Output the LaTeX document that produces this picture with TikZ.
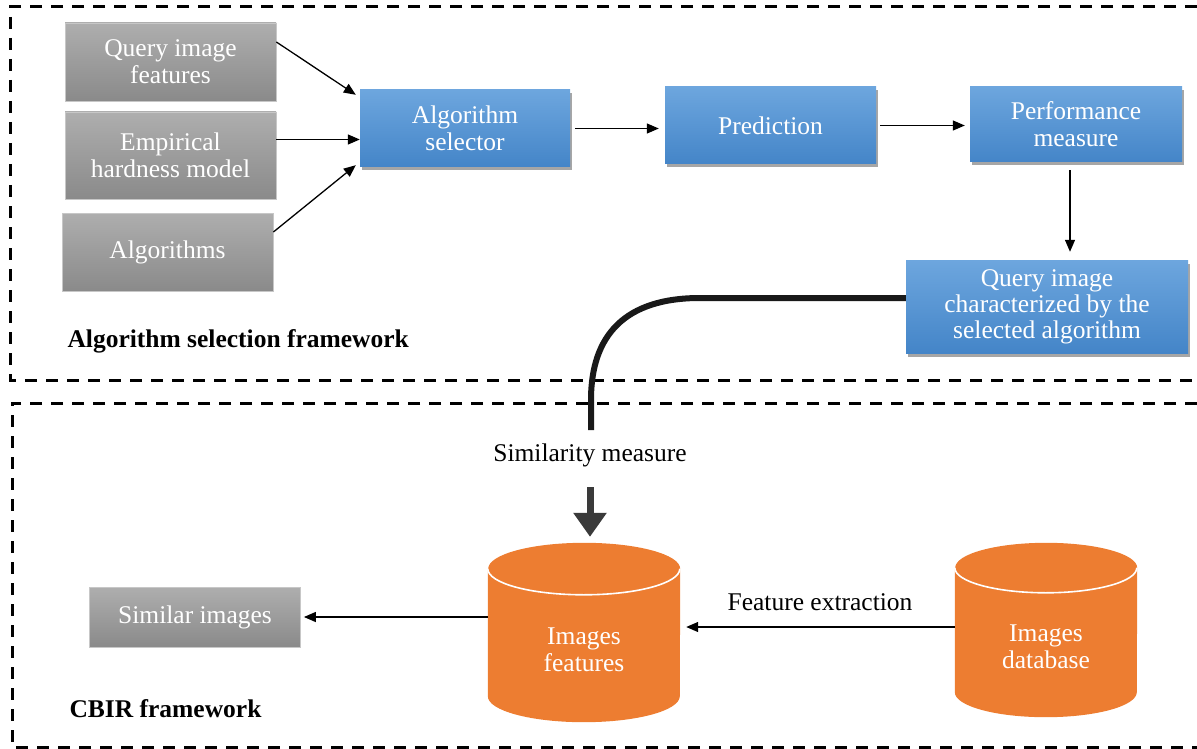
\documentclass[tikz,border=0pt]{standalone}
\usepackage{fontspec}
\setmainfont{Liberation Serif}
\usetikzlibrary{arrows.meta,shadows,calc}

\definecolor{greytop}{HTML}{AEAEAE}
\definecolor{greybot}{HTML}{8A8A8A}
\definecolor{bluetop}{HTML}{6DA6DE}
\definecolor{bluebot}{HTML}{4485C8}
\definecolor{dborange}{HTML}{ED7D31}
\definecolor{darkarrow}{HTML}{3A3A3A}

% database cylinder drawn over the frame of a named node: #1 node, #2 x radius, #3 y radius
\newcommand\drawdb[3]{%
  \fill[dborange] ([yshift=-#3]#1.north west)
    -- ([yshift=#3]#1.south west)
    arc[start angle=180,end angle=360,x radius=#2,y radius=#3]
    -- ([yshift=-#3]#1.north east)
    arc[start angle=0,end angle=180,x radius=#2,y radius=#3] -- cycle;
  \draw[white,line width=1.6pt] ([yshift=-#3]#1.north west)
    arc[start angle=180,end angle=360,x radius=#2,y radius=#3];
}

\begin{document}
\begin{tikzpicture}[x=1pt,y=-1pt,
  txt/.style={font=\fontsize{25.5pt}{27pt}\selectfont, align=center},
  greybox/.style={txt, text=white, draw=black!22, line width=0.8pt,
    top color=greytop, bottom color=greybot, inner sep=0pt},
  bluebox/.style={txt, text=white, top color=bluetop, bottom color=bluebot,
    inner sep=0pt, drop shadow={shadow xshift=1.5pt, shadow yshift=-3.5pt,
    opacity=0.35, fill=black}},
  dbframe/.style={inner sep=0pt},
  dbtext/.style={txt, text=white},
  arr/.style={line width=1.3pt, -{Triangle[length=12pt,width=10pt]}},
  frame/.style={line width=3pt, dash pattern=on 12pt off 9pt},
  caption/.style={txt, font=\fontsize{25.5pt}{27pt}\selectfont\bfseries, anchor=west},
  plainlabel/.style={txt}
]
\useasboundingbox (0,0) rectangle (1197,749);

% dashed framework borders
\draw[frame] (1197,7) -- (10,7) -- (10,380) -- (1197,380);
\draw[frame] (1197,403) -- (12,403) -- (12,747) -- (1197,747);

% inputs of the selector
\node[greybox, minimum width=211pt, minimum height=78pt] (gq) at (170.5,62) {Query image\\features};
\node[greybox, minimum width=211pt, minimum height=87pt] (ge) at (170.5,155.5) {Empirical\\hardness model};
\node[greybox, minimum width=211pt, minimum height=78pt] (ga) at (167.5,252) {Algorithms};

% selection pipeline
\node[bluebox, minimum width=210pt, minimum height=77pt] (sel) at (465,128.5) {Algorithm\\selector};
\node[bluebox, minimum width=211pt, minimum height=77pt] (pred) at (770.5,125.5) {Prediction};
\node[bluebox, minimum width=212pt, minimum height=75pt] (perf) at (1076,124.5) {Performance\\measure};
\node[bluebox, minimum width=282pt, minimum height=93pt, font=\fontsize{25.5pt}{26pt}\selectfont] (qchar) at (1047,306.5) {Query image\\characterized by the\\selected algorithm};

\draw[arr] ([yshift=20pt]gq.east) -- ([xshift=-4pt,yshift=-5pt]sel.north west);
\draw[arr] ([yshift=16pt]ge.east) -- ([yshift=16pt]ge.east -| sel.west);
\draw[arr] ([yshift=20pt]ga.east) -- ([xshift=-4pt,yshift=2pt]sel.south west);
\draw[arr] ([xshift=5pt]sel.east) -- ([xshift=-6pt]pred.west |- sel.east);
\draw[arr] ([xshift=4pt]pred.east) -- ([xshift=-5pt]perf.west |- pred.east);
\draw[arr, shorten >=8pt] ([xshift=-6pt,yshift=-8pt]perf.south) -- ([xshift=-6pt]perf.south |- qchar.north);

\node[caption] (cap1) at (64,341) {Algorithm selection framework};

% CBIR part
\node[dbframe, minimum width=192pt, minimum height=179pt] (feats) at (584,632.5) {};
\node[dbframe, minimum width=182pt, minimum height=174pt] (db) at (1046,630) {};
\drawdb{feats}{96pt}{26pt}
\drawdb{db}{91pt}{25pt}
\node[dbtext] (featsl) at (584,650) {Images\\features};
\node[dbtext] (dbl) at (1046,647) {Images\\database};

\node[greybox, minimum width=211pt, minimum height=60pt] (sim) at (195,617) {Similar images};

\node[plainlabel] (simlabel) at (590,455) {Similarity measure};
\node[plainlabel] (fxlabel) at (820,602) {Feature extraction};
\node[caption] (cap2) at (66,709) {CBIR framework};

\coordinate (bend) at (700,298);
\coordinate (curveend) at (591,430);
\draw[line width=6pt, black!90] ([yshift=8.5pt]qchar.west) -- (bend)
  .. controls (625,298) and (591,335) .. (591,400) -- (curveend);
\draw[line width=7pt, darkarrow, -{Triangle[length=24pt,width=32pt]}]
  ([yshift=-17pt]simlabel.south) -- ([yshift=6pt]simlabel.south |- feats.north);

\draw[arr] ([yshift=15.5pt]feats.west) -- ([xshift=3pt]sim.east);
\draw[arr] (db.west |- 0,627) -- ([xshift=6pt]feats.east |- 0,627);
\end{tikzpicture}
\end{document}
